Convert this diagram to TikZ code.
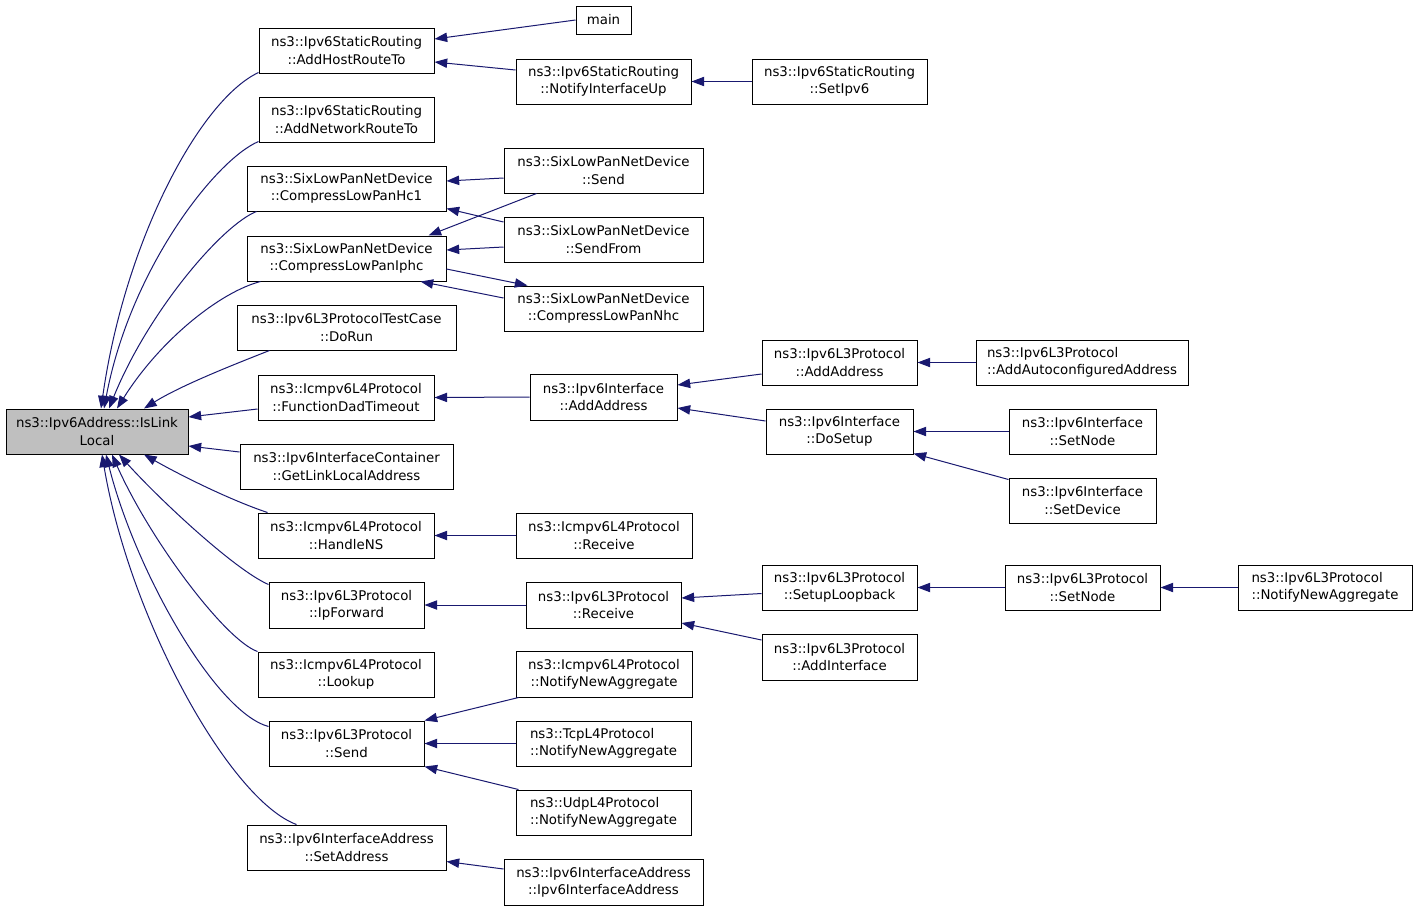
\documentclass[tikz,border=0pt]{standalone}
\usepackage{fontspec}
\setmainfont{DejaVu Sans}
\usetikzlibrary{arrows.meta}
\definecolor{edgeblue}{RGB}{25,25,112}
\definecolor{hl}{RGB}{191,191,191}
\newcommand\bx[7][]{\node[box,#1,minimum width={(#5-#3)*0.75pt},minimum height={(#6-#4)*0.75pt}] (#2) at ({(#3+#5)/2},{(#4+#6)/2}) {#7};}
\tikzset{
  box/.style={draw=black,line width=0.75pt,inner sep=0pt,align=center,fill=white},
  lbox/.style={align=left},
  edge/.style={draw=edgeblue,line width=0.75pt,-{Triangle[length=9.5pt,width=7pt]},edgeblue},
}
\begin{document}
\begin{tikzpicture}[x=0.75pt,y=-0.75pt,font=\fontsize{10}{13}\selectfont]
\useasboundingbox[fill=white] (0,0) rectangle (1419,911);
% column 0
\bx[fill=hl]{isll}{6}{409}{188}{454}{ns3::Ipv6Address::IsLink\\Local}
% column 1
\bx{aht}{259}{28}{434}{73}{ns3::Ipv6StaticRouting\\::AddHostRouteTo}
\bx{anr}{259}{97}{434}{142}{ns3::Ipv6StaticRouting\\::AddNetworkRouteTo}
\bx{hc1}{247}{166}{446}{211}{ns3::SixLowPanNetDevice\\::CompressLowPanHc1}
\bx{iphc}{247}{236}{446}{281}{ns3::SixLowPanNetDevice\\::CompressLowPanIphc}
\bx{dorun}{237}{305}{456}{350}{ns3::Ipv6L3ProtocolTestCase\\::DoRun}
\bx{fdt}{258}{375}{434}{420}{ns3::Icmpv6L4Protocol\\::FunctionDadTimeout}
\bx{gll}{240}{444}{453}{489}{ns3::Ipv6InterfaceContainer\\::GetLinkLocalAddress}
\bx{hns}{258}{513}{434}{558}{ns3::Icmpv6L4Protocol\\::HandleNS}
\bx{ipf}{269}{582}{424}{628}{ns3::Ipv6L3Protocol\\::IpForward}
\bx{lookup}{258}{652}{434}{697}{ns3::Icmpv6L4Protocol\\::Lookup}
\bx{send}{269}{721}{424}{766}{ns3::Ipv6L3Protocol\\::Send}
\bx{seta}{247}{825}{446}{870}{ns3::Ipv6InterfaceAddress\\::SetAddress}
% column 2
\bx{main}{576}{6}{631}{34}{main}
\bx{niu}{516}{59}{691}{104}{ns3::Ipv6StaticRouting\\::NotifyInterfaceUp}
\bx{slsend}{504}{148}{703}{193}{ns3::SixLowPanNetDevice\\::Send}
\bx{slfrom}{504}{217}{703}{262}{ns3::SixLowPanNetDevice\\::SendFrom}
\bx{nhc}{504}{286}{703}{331}{ns3::SixLowPanNetDevice\\::CompressLowPanNhc}
\bx{ifaa}{530}{374}{677}{420}{ns3::Ipv6Interface\\::AddAddress}
\bx{icrecv}{516}{513}{692}{558}{ns3::Icmpv6L4Protocol\\::Receive}
\bx{l3recv}{526}{582}{681}{628}{ns3::Ipv6L3Protocol\\::Receive}
\bx{icnna}{516}{651}{692}{697}{ns3::Icmpv6L4Protocol\\::NotifyNewAggregate}
\bx[lbox]{tcpnna}{516}{721}{691}{766}{ns3::TcpL4Protocol\\::NotifyNewAggregate}
\bx[lbox]{udpnna}{516}{790}{691}{835}{ns3::UdpL4Protocol\\::NotifyNewAggregate}
\bx{iaia}{504}{859}{703}{905}{ns3::Ipv6InterfaceAddress\\::Ipv6InterfaceAddress}
% column 3
\bx{setipv6}{752}{59}{927}{104}{ns3::Ipv6StaticRouting\\::SetIpv6}
\bx{l3aa}{762}{340}{917}{385}{ns3::Ipv6L3Protocol\\::AddAddress}
\bx{dosetup}{766}{409}{913}{454}{ns3::Ipv6Interface\\::DoSetup}
\bx{loop}{762}{565}{917}{610}{ns3::Ipv6L3Protocol\\::SetupLoopback}
\bx{addif}{762}{634}{917}{680}{ns3::Ipv6L3Protocol\\::AddInterface}
% column 4
\bx[lbox]{aaa}{976}{340}{1188}{385}{ns3::Ipv6L3Protocol\\::AddAutoconfiguredAddress}
\bx{ifsn}{1009}{409}{1156}{454}{ns3::Ipv6Interface\\::SetNode}
\bx{ifsd}{1009}{478}{1156}{523}{ns3::Ipv6Interface\\::SetDevice}
\bx{l3sn}{1005}{565}{1160}{610}{ns3::Ipv6L3Protocol\\::SetNode}
% column 5
\bx[lbox]{l3nna}{1238}{565}{1412}{610}{ns3::Ipv6L3Protocol\\::NotifyNewAggregate}

% edges right part
\draw[edge] (main.west) -- ([shift={(0,-11.5)}]aht.east);
\draw[edge] ([shift={(0,-11.5)}]niu.west) -- ([shift={(0,11.5)}]aht.east);
\draw[edge] (setipv6.west) -- (niu.east);
\draw[edge] ([shift={(0,7.5)}]slsend.west) -- ([shift={(0,-7.5)}]hc1.east);
\draw[edge] ([shift={(0,-17.5)}]slfrom.west) -- ([shift={(0,20)}]hc1.east);
\draw[edge] ([shift={(33,0)}]slsend.south west) -- ([shift={(-18,0)}]iphc.north east);
\draw[edge] ([shift={(0,7.5)}]slfrom.west) -- ([shift={(0,-8.5)}]iphc.east);
\draw[edge] ([shift={(0,10.5)}]iphc.east) -- ([shift={(24,0)}]nhc.north west);
\draw[edge] ([shift={(0,-10.5)}]nhc.west) -- ([shift={(-26,0)}]iphc.south east);
\draw[edge] (ifaa.west) -- (fdt.east);
\draw[edge] ([shift={(0,11.5)}]l3aa.west) -- ([shift={(0,-12)}]ifaa.east);
\draw[edge] ([shift={(0,-10.5)}]dosetup.west) -- ([shift={(0,11)}]ifaa.east);
\draw[edge] (aaa.west) -- (l3aa.east);
\draw[edge] (ifsn.west) -- (dosetup.east);
\draw[edge] ([shift={(0,2)}]ifsd.north west) -- ([shift={(0,-1)}]dosetup.south east);
\draw[edge] (icrecv.west) -- (hns.east);
\draw[edge] (l3recv.west) -- (ipf.east);
\draw[edge] ([shift={(0,6)}]loop.west) -- ([shift={(0,-7)}]l3recv.east);
\draw[edge] ([shift={(0,-17)}]addif.west) -- ([shift={(0,18)}]l3recv.east);
\draw[edge] (l3sn.west) -- (loop.east);
\draw[edge] (l3nna.west) -- (l3sn.east);
\draw[edge] ([shift={(3,0)}]icnna.south west) -- ([shift={(0,0)}]send.north east);
\draw[edge] (tcpnna.west) -- (send.east);
\draw[edge] ([shift={(3,0)}]udpnna.north west) -- (send.south east);
\draw[edge] ([shift={(0,-13)}]iaia.west) -- ([shift={(0,14)}]seta.east);

% edges into IsLinkLocal
\draw[edge] ([shift={(0,-1)}]aht.south west) .. controls (200,100) and (125,240) .. ([shift={(4,0)}]isll.north);
\draw[edge] ([shift={(0,-1)}]anr.south west) .. controls (215,160) and (130,270) .. ([shift={(7,0)}]isll.north);
\draw[edge] ([shift={(10,0)}]hc1.south west) .. controls (222,225) and (148,312) .. ([shift={(12,0)}]isll.north);
\draw[edge] ([shift={(14,0)}]iphc.south west) .. controls (220,292) and (160,340) .. ([shift={(20,0)}]isll.north);
\draw[edge] ([shift={(33,0)}]dorun.south west) .. controls (230,366) and (180,386) .. ([shift={(47,0)}]isll.north);
\draw[edge] ([shift={(0,11.5)}]fdt.west) -- ([shift={(0,-14.5)}]isll.east);
\draw[edge] ([shift={(0,-14.5)}]gll.west) -- ([shift={(0,14.5)}]isll.east);
\draw[edge] ([shift={(10,0)}]hns.north west) .. controls (230,500) and (180,475) .. ([shift={(47,0)}]isll.south);
\draw[edge] ([shift={(0,3)}]ipf.north west) .. controls (235,570) and (160,500) .. ([shift={(22,0)}]isll.south);
\draw[edge] (lookup.north west) .. controls (225,640) and (150,540) .. ([shift={(15,0)}]isll.south);
\draw[edge] ([shift={(0,6)}]send.north west) .. controls (215,712) and (135,570) .. ([shift={(9,0)}]isll.south);
\draw[edge] ([shift={(50,0)}]seta.north west) .. controls (230,800) and (130,620) .. ([shift={(5,0)}]isll.south);
\end{tikzpicture}
\end{document}
